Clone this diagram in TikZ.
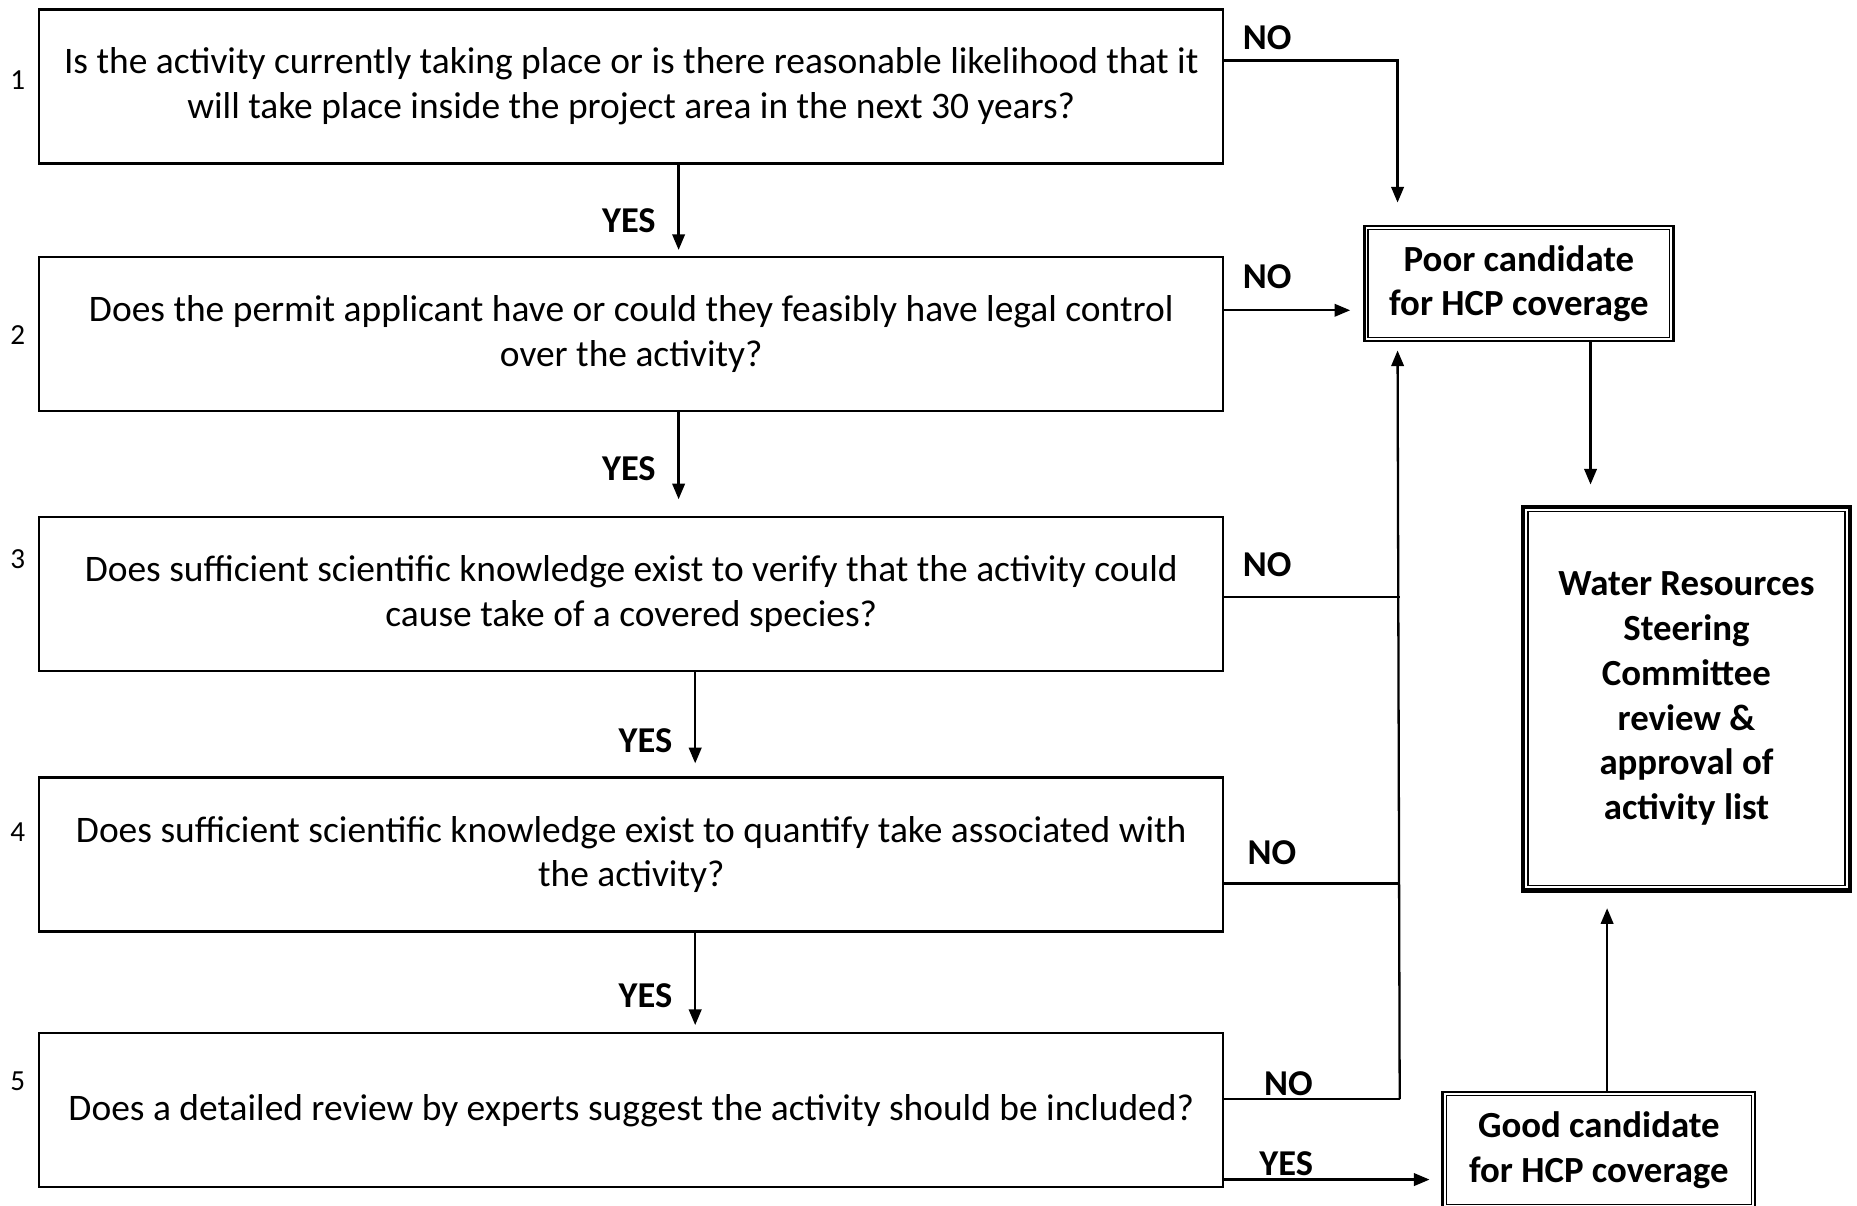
\documentclass[tikz,border=0pt]{standalone}
\usepackage{fontspec}
\setmainfont{Carlito}
\usetikzlibrary{arrows.meta,calc}
\begin{document}
\begin{tikzpicture}[x=0.02cm,y=-0.02cm,
 q/.style={draw,line width=1.1pt,minimum width=20cm,minimum height=2.6cm,align=center,inner sep=0pt,font=\fontsize{18}{21.5}\selectfont},
 res/.style={draw,line width=1.1pt,align=center,inner sep=0pt,font=\bfseries\fontsize{17.7}{21.5}\selectfont},
 lab/.style={font=\bfseries\fontsize{17.5}{20}\selectfont,inner sep=0pt},
 num/.style={font=\fontsize{14}{16}\selectfont,inner sep=0pt},
 arr/.style={line width=1.1pt,-{Triangle[length=7.5pt,width=6pt]}},
 ln/.style={line width=1.1pt}
]
\useasboundingbox (0,0) rectangle (1568,1017.5);
\clip (0,0) rectangle (1568,1017.5);
% question boxes
\node[q] (b1) at (533,73) {Is the activity currently taking place or is there reasonable likelihood that it\\will take place inside the project area in the next 30 years?};
\node[q] (b2) at (533,282) {Does the permit applicant have or could they feasibly have legal control\\over the activity?};
\node[q] (b3) at (533,501.5) {Does sufficient scientific knowledge exist to verify that the activity could\\cause take of a covered species?};
\node[q] (b4) at (533,721.5) {Does sufficient scientific knowledge exist to quantify take associated with\\the activity?};
\node[q] (b5) at (533,937.5) {Does a detailed review by experts suggest the activity should be included?};
% numbers
\node[num] (n1) at (15,68) {1};
\node[num] (n2) at (15,283) {2};
\node[num] (n3) at (15,472) {3};
\node[num] (n4) at (15,703) {4};
\node[num] (n5) at (15,913) {5};
% result boxes
\node[res,minimum width=5.22cm,minimum height=1.94cm] (poor) at (1282.5,239.5) {Poor candidate\\for HCP coverage};
\draw[line width=0.6pt] ($(poor.north west)+(4,4)$) rectangle ($(poor.south east)+(-4,-4)$);
\node[res,minimum width=5.28cm,minimum height=1.96cm] (good) at (1350,971) {Good candidate\\for HCP coverage};
\draw[line width=0.6pt] ($(good.north west)+(4,4)$) rectangle ($(good.south east)+(-4,-4)$);
\node[res,line width=2.2pt,minimum width=5.52cm,minimum height=6.48cm] (water) at (1424,590) {Water Resources\\Steering\\Committee\\review \&\\approval of\\activity list};
\draw[line width=0.6pt] ($(water.north west)+(6,6)$) rectangle ($(water.south east)+(-6,-6)$);
% YES arrows
\draw[arr] ($(b1.south)+(40,0)$) -- ($(b2.north)+(40,-5)$);
\draw[arr] ($(b2.south)+(40,0)$) -- ($(b3.north)+(40,-14)$);
\draw[arr] ($(b3.south)+(54,0)$) -- ($(b4.north)+(54,-11)$);
\draw[arr] ($(b4.south)+(54,0)$) -- ($(b5.north)+(54,-6)$);
\node[lab] (y1) at (531,186) {YES};
\node[lab] (y2) at (531,396) {YES};
\node[lab] (y3) at (545,625) {YES};
\node[lab] (y4) at (545,841) {YES};
% NO connectors
\coordinate (tb) at ($(b5.east)+(148,-9.5)$);
\draw[arr] ($(b1.east)+(0,-22)$) -| ($(poor.north west)+(29,-19)$);
\draw[arr] ($(b2.east)+(0,-20)$) -- ($(b2.east -| poor.west)+(-11,-20)$);
\draw[ln] ($(b3.east)+(0,2.5)$) -- ($(b3.east -| tb)+(0,2.5)$);
\draw[ln] ($(b4.east)+(0,24.5)$) -- ($(b4.east -| tb)+(0,24.5)$);
\draw[ln] ($(b5.east)+(0,-9.5)$) -- (tb);
\draw[arr] (tb) -- ($(poor.south west)+(29,7)$);
\draw[arr] ($(b5.east)+(0,58.5)$) -- ($(b5.east -| good.west)+(-10,58.5)$);
\draw[arr] ($(poor.south)+(60.5,0)$) -- ($(water.north -| poor.south)+(60.5,-17)$);
\draw[arr] ($(good.north)+(7,0)$) -- ($(water.south -| good.north)+(7,13)$);
\node[lab] (no1) at (1070,32) {NO};
\node[lab] (no2) at (1070,234) {NO};
\node[lab] (no3) at (1070,477) {NO};
\node[lab] (no4) at (1074,720) {NO};
\node[lab] (no5) at (1088,915) {NO};
\node[lab] (y5) at (1086,983) {YES};
\end{tikzpicture}
\end{document}
